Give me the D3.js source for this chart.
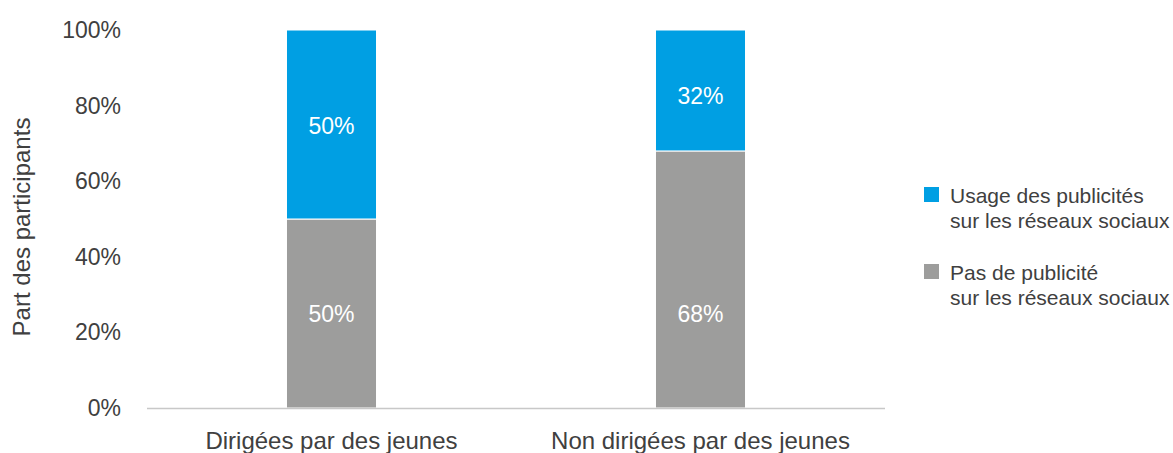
<!DOCTYPE html>
<html>
<head>
<meta charset="utf-8">
<script src="https://cdn.jsdelivr.net/npm/d3@7"></script>
<style>
  body { margin: 0; background: #fff; }
  text { font-family: "Liberation Sans", Arial, sans-serif; }
</style>
</head>
<body>
<div id="chart"></div>
<script>
// data
var categories = ["Dirigées par des jeunes", "Non dirigées par des jeunes"];
var noAds = [50, 68];   // Pas de publicité
var ads = [50, 32];     // Usage des publicités
var yTicks = [0, 20, 40, 60, 80, 100];
// where the value labels sit, in axis units
var noAdsLabelAt = [25, 25];
var adsLabelAt = [74.5, 82.5];

var blue = "#009fe3";
var gray = "#9d9d9c";
var textCol = "#404040";

var width = 1173, height = 453;
var plot = { left: 147, right: 885, top: 30, bottom: 408 };

var svg = d3.select("#chart").append("svg")
  .attr("width", width)
  .attr("height", height);

var x = d3.scaleBand()
  .domain(categories)
  .range([plot.left, plot.right])
  .paddingInner(0.756)
  .paddingOuter(0.378);

var y = d3.scaleLinear()
  .domain([0, 100])
  .range([plot.bottom, plot.top]);

// stacked data
var rows = categories.map(function(c, i) {
  return { cat: c, noAds: noAds[i], ads: ads[i], i: i };
});
var stack = d3.stack().keys(["noAds", "ads"])(rows);
var colors = { noAds: gray, ads: blue };
var labelAt = { noAds: noAdsLabelAt, ads: adsLabelAt };

// y tick labels (no axis line)
svg.append("g").selectAll("text")
  .data(yTicks)
  .enter()
  .append("text")
  .attr("x", 121)
  .attr("y", d => y(d) + 8)
  .attr("text-anchor", "end")
  .attr("fill", textCol)
  .attr("font-size", "23px")
  .text(d => d + "%");

// y title
svg.append("text")
  .attr("transform", "translate(30,227) rotate(-90)")
  .attr("text-anchor", "middle")
  .attr("fill", textCol)
  .attr("font-size", "24px")
  .text("Part des participants");

// bars
var layers = svg.append("g").selectAll("g")
  .data(stack)
  .enter()
  .append("g")
  .attr("fill", d => colors[d.key]);

layers.selectAll("rect")
  .data(d => d)
  .enter()
  .append("rect")
  .attr("x", d => x(d.data.cat))
  .attr("width", x.bandwidth())
  .attr("y", d => y(d[1]))
  .attr("height", d => y(d[0]) - y(d[1]))
  .attr("stroke", "#fff")
  .attr("stroke-width", 1);

// bar value labels
layers.each(function(layer) {
  d3.select(this).selectAll("text")
    .data(layer)
    .enter()
    .append("text")
    .attr("x", d => x(d.data.cat) + x.bandwidth() / 2)
    .attr("y", d => y(labelAt[layer.key][d.data.i]) + 8)
    .attr("text-anchor", "middle")
    .attr("fill", "#fff")
    .attr("font-size", "23px")
    .text(d => (d[1] - d[0]) + "%");
});

// x axis baseline
svg.append("line")
  .attr("x1", plot.left)
  .attr("x2", plot.right)
  .attr("y1", y(0) + 0.5)
  .attr("y2", y(0) + 0.5)
  .attr("stroke", "#c8c8c8")
  .attr("stroke-width", 1.5);

// category labels
svg.append("g").selectAll("text")
  .data(categories)
  .enter()
  .append("text")
  .attr("x", d => x(d) + x.bandwidth() / 2)
  .attr("y", 449)
  .attr("text-anchor", "middle")
  .attr("fill", textCol)
  .attr("font-size", "24px")
  .text(d => d);

// legend
var legendItems = [
  { color: blue, lines: ["Usage des publicités", "sur les réseaux sociaux"] },
  { color: gray, lines: ["Pas de publicité", "sur les réseaux sociaux"] }
];

var legend = svg.append("g").selectAll("g")
  .data(legendItems)
  .enter()
  .append("g")
  .attr("transform", (d, i) => "translate(924," + (187 + i * 77) + ")");

legend.append("rect")
  .attr("width", 15)
  .attr("height", 15)
  .attr("fill", d => d.color);

legend.append("text")
  .attr("fill", textCol)
  .attr("font-size", "21px")
  .selectAll("tspan")
  .data(d => d.lines)
  .enter()
  .append("tspan")
  .attr("x", 26)
  .attr("y", (d, i) => 16 + i * 24.5)
  .text(d => d);
</script>
</body>
</html>
